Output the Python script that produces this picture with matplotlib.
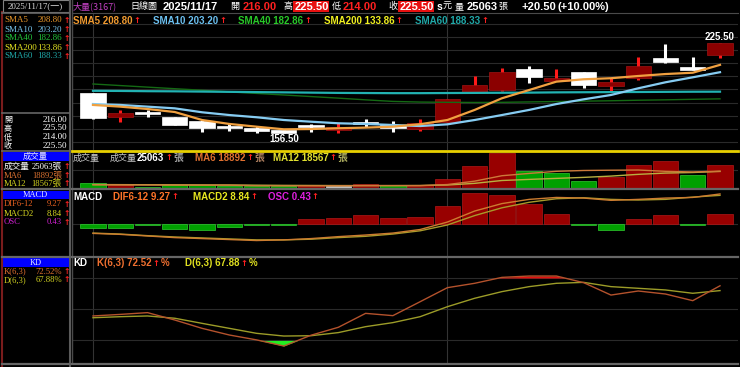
import matplotlib
matplotlib.use('Agg')
import matplotlib.pyplot as plt
from matplotlib.lines import Line2D
from matplotlib.patches import Rectangle
import numpy as np

# 日K資料 (由圖上讀取的估計值)
opens = [187.0, 169.3, 172.7, 168.8, 166.3, 162.4, 160.4, 159.1, 163.0, 159.1, 165.4, 162.9,
         159.6, 165.4, 188.3, 189.6, 205.7, 196.7, 203.1, 192.9, 199.0, 213.8, 207.4, 216.0]
highs = [187.0, 174.0, 174.7, 169.0, 166.5, 164.2, 162.4, 159.3, 163.5, 164.2, 167.3, 166.0,
         167.3, 182.5, 200.5, 206.6, 208.2, 205.7, 203.1, 198.6, 215.0, 224.7, 214.6, 225.5]
lows = [167.8, 165.5, 168.8, 163.0, 157.5, 158.5, 157.0, 156.5, 157.8, 157.0, 161.6, 157.8,
        158.6, 165.4, 188.3, 189.0, 195.2, 196.7, 190.9, 188.9, 197.3, 210.0, 204.9, 214.0]
closes = [168.6, 172.4, 171.4, 163.2, 160.4, 160.4, 158.6, 157.0, 161.5, 161.5, 163.7, 160.9,
          164.7, 182.5, 193.4, 203.1, 199.8, 199.0, 193.4, 195.5, 208.2, 210.8, 205.0, 225.5]

sma5 = [178.2, 176.9, 175.1, 172.8, 166.7, 163.7, 161.6, 159.6, 159.8, 160.4, 160.9, 161.6,
        163.5, 166.7, 174.4, 183.3, 189.6, 196.0, 197.8, 198.6, 200.3, 201.8, 202.8, 208.8]
sma10 = [178.9, 178.2, 176.9, 175.6, 172.6, 170.5, 168.8, 166.7, 165.4, 164.2, 163.7, 162.9,
         162.1, 163.4, 166.7, 170.5, 174.4, 178.9, 182.5, 185.8, 190.9, 195.5, 199.3, 203.2]
sma40 = [194.2, 193.0, 191.8, 190.6, 189.4, 188.2, 187.0, 185.8, 184.6, 183.4, 182.1, 180.9,
         180.4, 180.2, 180.1, 180.2, 180.5, 180.8, 181.1, 181.4, 181.8, 182.1, 182.5, 182.86]
sma60 = [189.0, 188.9, 188.7, 188.6, 188.4, 188.2, 188.0, 187.8, 187.6, 187.4, 187.3, 187.2,
         187.2, 187.3, 187.4, 187.5, 187.6, 187.8, 187.9, 188.0, 188.1, 188.2, 188.3, 188.33]

# 成交量 (張)
vols = [6500, 3600, 1900, 3600, 3600, 2900, 2500, 2500, 3300, 2500, 4400, 3300,
        3300, 9800, 25000, 38100, 18500, 17400, 8700, 12000, 26100, 29400, 14200, 25063]
vol_dir = [-1, 1, -1, -1, -1, -1, -1, -1, 1, 0, 1, -1, 1, 1, 1, 1, -1, -1, -1, 1, 1, 1, -1, 1]
vol_ma6 = [4000, 3900, 3800, 3700, 3600, 3600, 3000, 2900, 2900, 2900, 3100, 3100,
           3200, 4300, 8000, 13900, 16400, 18700, 19600, 19900, 20100, 18700, 18000, 18892]
vol_ma12 = [4300, 4200, 4100, 4000, 3900, 3800, 3600, 3400, 3300, 3200, 3200, 3200,
            3200, 3800, 5600, 8700, 9900, 11000, 12100, 13500, 15400, 16800, 17400, 18567]

# MACD
osc = [-0.16, -0.16, -0.05, -0.22, -0.26, -0.15, -0.06, -0.06, 0.22, 0.27, 0.39, 0.25,
       0.32, 0.80, 1.33, 1.26, 0.87, 0.43, -0.06, -0.26, 0.20, 0.39, -0.05, 0.43]
dif = [-2.9, -3.2, -3.7, -4.2, -4.5, -4.8, -5.1, -4.9, -4.5, -3.9, -3.4, -2.8,
       -1.7, 0.6, 4.0, 6.3, 7.6, 8.2, 8.0, 7.3, 7.6, 8.0, 8.2, 9.27]
macd2 = [-2.8, -3.1, -3.6, -4.0, -4.3, -4.6, -4.9, -4.9, -4.7, -4.2, -3.8, -3.1,
         -2.1, -0.3, 2.6, 5.0, 6.7, 7.8, 8.1, 7.6, 7.4, 7.6, 8.3, 8.84]

# KD
k_val = [43.5, 45.0, 46.7, 39.6, 31.6, 25.2, 20.5, 14.6, 25.0, 32.6, 46.0, 43.8,
         57.2, 70.7, 74.9, 80.6, 81.9, 81.9, 75.5, 63.6, 67.5, 64.6, 58.2, 72.52]
d_val = [41.8, 42.8, 43.5, 41.3, 36.4, 31.6, 26.8, 24.2, 24.5, 27.5, 33.2, 37.1,
         42.8, 52.4, 60.5, 66.9, 71.7, 74.9, 75.8, 71.7, 70.1, 68.5, 65.3, 67.88]

W, H = 740, 367
SERIF = ['Liberation Serif', 'Noto Sans CJK TC', 'DejaVu Sans']
SANS = ['Liberation Sans', 'Noto Sans CJK TC', 'DejaVu Sans']
CJK = ['Noto Sans CJK TC', 'DejaVu Sans']
ARROW = ['DejaVu Sans']
RED = '#ff2020'
GRID = '#2a2a2a'
XL = (-0.77, 23.66)

fig = plt.figure(figsize=(W / 100, H / 100), dpi=100, facecolor='black')


def fx(x):
    return x / W


def fy(y):
    return 1 - y / H


def hline(y, x0, x1, color, lw=1.0):
    fig.add_artist(Line2D([fx(x0), fx(x1)], [fy(y), fy(y)], color=color, lw=lw,
                          transform=fig.transFigure))


def vline(x, y0, y1, color, lw=1.0):
    fig.add_artist(Line2D([fx(x), fx(x)], [fy(y0), fy(y1)], color=color, lw=lw,
                          transform=fig.transFigure))


def box(x0, y0, x1, y1, fc, ec='none'):
    fig.add_artist(Rectangle((fx(x0), fy(y1)), fx(x1) - fx(x0), fy(y0) - fy(y1),
                             facecolor=fc, edgecolor=ec, lw=0.8, transform=fig.transFigure))


def txt(x, y, s, c, size=6.5, fam=SERIF, w='normal', ha='left'):
    return fig.text(fx(x), fy(y), s, color=c, fontsize=size, family=fam,
                    fontweight=w, ha=ha, va='center')


def seq(x, y, pieces, size=7, fam=SANS, w='bold'):
    # 依序排列不同顏色的文字片段
    r = fig.canvas.get_renderer()
    for p in pieces:
        f = p[2] if len(p) > 2 else fam
        s = size - 1 if f is ARROW else size
        t = txt(x, y, p[0], p[1], s, f, w)
        x += t.get_window_extent(r).width + 1
    return x


def panel(y0, y1):
    ax = fig.add_axes([fx(72), fy(y1), fx(738) - fx(72), fy(y0) - fy(y1)])
    ax.set_facecolor('black')
    ax.set_xlim(XL)
    ax.set_axis_off()
    for i in (0, 13):
        ax.axvline(i, color='#333333', lw=0.8, zorder=0)
    return ax


xs = np.arange(len(closes))

# ---- 主圖 K線 ----
ax_p = panel(13, 150)
ax_p.set_ylim(143.8, 248.4)
for p in range(150, 250, 10):
    ax_p.axhline(p, color=GRID, lw=0.8, zorder=0)
for i in xs:
    up = closes[i] >= opens[i]
    body = '#8b0000' if up else 'white'
    wick = '#ff1a1a' if up else 'white'
    ax_p.vlines(i, lows[i], highs[i], color=wick, lw=2.2, zorder=2)
    lo = min(opens[i], closes[i])
    h = max(abs(closes[i] - opens[i]), 0.4)
    ax_p.bar(i, h, bottom=lo, width=0.93, color=body,
             edgecolor='#a01414' if up else 'white', lw=0.5, zorder=3)
ax_p.plot(xs, sma40, color='#146a14', lw=1.0, zorder=4)
ax_p.plot(xs, sma60, color='#22b2b2', lw=1.6, zorder=4)
ax_p.plot(xs, sma10, color='#86ccf2', lw=1.6, zorder=5)
ax_p.plot(xs, sma5, color='#f0a040', lw=1.6, zorder=6)
hi = int(np.argmax(highs))
lo_i = int(np.argmin(lows))
ax_p.annotate(f'{highs[hi]:.2f}', (hi, highs[hi]), xytext=(0, 4.5), textcoords='offset points',
              ha='center', va='center', color='white', fontsize=7, fontweight='bold', family=SANS)
ax_p.annotate(f'{lows[lo_i]:.2f}', (lo_i, lows[lo_i]), xytext=(0, -4.2), textcoords='offset points',
              ha='center', va='center', color='white', fontsize=7, fontweight='bold', family=SANS)

# ---- 成交量 ----
ax_v = panel(151, 188.5)
ax_v.set_ylim(0, 40800)
ax_v.axhline(20000, color=GRID, lw=0.8, zorder=0)
vcol = {1: '#980000', -1: '#00a000', 0: '#c8c8c8'}
vedge = {1: '#b01818', -1: '#30cc30', 0: '#e0e0e0'}
ax_v.bar(xs, vols, width=0.93, color=[vcol[d] for d in vol_dir],
         edgecolor=[vedge[d] for d in vol_dir], lw=0.5, zorder=2)
ax_v.plot(xs, vol_ma12, color='#b8b040', lw=1.0, zorder=3)
ax_v.plot(xs, vol_ma6, color='#cc7a3a', lw=1.0, zorder=3)

# ---- MACD ----
ax_m = panel(190, 256)
ax_m.set_ylim(-32 / 23, 34 / 23)
ax_m.axhline(0, color=GRID, lw=0.8, zorder=0)
ax_m.bar(xs, osc, width=0.93, color=['#980000' if v > 0 else '#00a000' for v in osc],
         edgecolor=['#b01818' if v > 0 else '#30cc30' for v in osc], lw=0.5, zorder=2)
ax_m2 = ax_m.twinx()
ax_m2.set_xlim(XL)
ax_m2.set_ylim(-32 / 3.24, 34 / 3.24)
ax_m2.set_axis_off()
ax_m2.plot(xs, macd2, color='#a89a2a', lw=1.0)
ax_m2.plot(xs, dif, color='#cc7c30', lw=1.0)

# ---- KD ----
ax_k = panel(257, 363)
ax_k.set_ylim(80 - 85 / 1.04, 80 + 21 / 1.04)
for lv in (20, 50, 80):
    ax_k.axhline(lv, color=GRID, lw=0.8, zorder=0)
k_arr = np.array(k_val)
ax_k.fill_between(xs, k_arr, 80, where=k_arr > 80, interpolate=True, color='#e01010', lw=0, zorder=1)
ax_k.fill_between(xs, k_arr, 20, where=k_arr < 20, interpolate=True, color='#22ee22', lw=0, zorder=1)
ax_k.plot(xs, d_val, color='#9c9c28', lw=1.0, zorder=2)
ax_k.plot(xs, k_arr, color='#b4522c', lw=1.0, zorder=3)

# ---- 分隔線 ----
vline(1.5, 12, 367, '#7a1c1c', 1.5)
vline(69.5, 0, 367, '#5a5a5a', 1.5)
vline(72, 0, 363, '#4a4a4a', 1.0)
hline(13, 72, 738, '#4a4a4a', 0.8)
hline(150.5, 72, 738, '#e8d000', 2.0)
for yy in (189, 256.5, 363.5):
    hline(yy, 72, 738, '#666666', 1.6)
    hline(yy, 2, 69, '#666666', 1.6)
hline(113, 2, 69, '#666666', 1.2)
hline(150.5, 2, 69, '#666666', 1.2)
hline(13, 2, 69, '#666666', 1.2)

# ---- 頂部標題列 ----
box(2.5, 0.5, 68.5, 12, 'black', '#808080')
txt(8, 6.5, '2025/11/17(一)', '#d8d8d8', 6.5, SERIF)
txt(73, 6.5, '大量(3167)', '#c040c0', 6.5, CJK)
txt(130, 6.5, '日線圖', 'white', 6.5, CJK)
txt(163, 6.5, '2025/11/17', 'white', 8, SANS, 'bold')
txt(230, 6.5, '開', 'white', 6.5, CJK)
txt(243, 6.5, '216.00', RED, 8, SANS, 'bold')
txt(283, 6.5, '高', 'white', 6.5, CJK)
box(293, 1, 329, 12, '#e81010')
txt(294.5, 6.5, '225.50', 'white', 8, SANS, 'bold')
txt(332, 6.5, '低', 'white', 6.5, CJK)
txt(343, 6.5, '214.00', RED, 8, SANS, 'bold')
txt(388, 6.5, '收', 'white', 6.5, CJK)
box(398, 1, 434, 12, '#e81010')
txt(399.5, 6.5, '225.50', 'white', 8, SANS, 'bold')
txt(437, 6.5, 's', 'white', 7.5, SANS, 'bold')
txt(443, 6.5, '元', 'white', 6.5, CJK)
txt(455, 6.5, '量', 'white', 6.5, CJK)
txt(467, 6.5, '25063', 'white', 8, SANS, 'bold')
txt(498, 6.5, '張', 'white', 6.5, CJK)
txt(522, 6.5, '+20.50', 'white', 8, SANS, 'bold')
txt(558, 6.5, '(+10.00%)', 'white', 8, SANS, 'bold')

# ---- 各圖標題 ----
sma_items = [('SMA5', sma5[-1], '#f09a30', 73), ('SMA10', sma10[-1], '#6cc0f0', 153),
             ('SMA40', sma40[-1], '#28c828', 238), ('SMA200', 133.86, '#f0f020', 324),
             ('SMA60', sma60[-1], '#20a8a8', 415)]
for name, v, c, x in sma_items:
    seq(x, 20.5, [(f'{name} {v:.2f}', c), ('↑', RED, ARROW)])

txt(73, 158, '成交量', '#c8c8c8', 6.5, CJK)
txt(110, 158, '成交量', '#c8c8c8', 6.5, CJK)
seq(137, 158, [(f'{vols[-1]}', 'white'), ('↑', RED, ARROW), ('張', '#a0a0a0', CJK)])
seq(195, 158, [(f'MA6 {vol_ma6[-1]}', '#e07030'), ('↑', RED, ARROW), ('張', '#b08060', CJK)])
seq(273, 158, [(f'MA12 {vol_ma12[-1]}', '#e0e030'), ('↑', RED, ARROW), ('張', '#b0b060', CJK)])

txt(73, 196.5, 'MACD', 'white', 7, SANS, 'bold')
seq(113, 196.5, [(f'DIF6-12 {dif[-1]:.2f}', '#ff7428'), ('↑', RED, ARROW)])
seq(193, 196.5, [(f'MACD2 {macd2[-1]:.2f}', '#e8e820'), ('↑', RED, ARROW)])
seq(268, 196.5, [(f'OSC {osc[-1]:.2f}', '#e020e0'), ('↑', RED, ARROW)])

txt(73, 263.5, 'KD', 'white', 7, SANS, 'bold')
seq(97, 263.5, [(f'K(6,3) {k_val[-1]:.2f}', '#f07030'), ('↑', RED, ARROW), ('%', '#f07030')])
seq(185, 263.5, [(f'D(6,3) {d_val[-1]:.2f}', '#e0e020'), ('↑', RED, ARROW), ('%', '#e0e020')])

# ---- 左側資訊欄 ----
left_sma = [('SMA5', sma5[-1], '#e8962a'), ('SMA10', sma10[-1], '#78c4ec'),
            ('SMA40', sma40[-1], '#22c43a'), ('SMA200', 133.86, '#e6e622'),
            ('SMA60', sma60[-1], '#1fa8a8')]
for j, (name, v, c) in enumerate(left_sma):
    yy = 20.5 + j * 9
    txt(4, yy, name, c)
    txt(62, yy, f'{v:.2f}', c, ha='right')
    txt(63.5, yy, '↑', RED, 5.5, ARROW, 'bold')

for j, (name, v) in enumerate([('開', opens[-1]), ('高', highs[-1]), ('低', lows[-1]), ('收', closes[-1])]):
    yy = 119.5 + j * 8.8
    txt(4, yy, name, 'white', 5.8, CJK)
    txt(67, yy, f'{v:.2f}', 'white', ha='right')

for yb, label in ((152, '成交量'), (190.8, 'MACD'), (258.3, 'KD')):
    box(3, yb, 68.5, yb + 8.6, '#0000ff')
    txt(35.5, yb + 4.3, label, '#e8e8ff', 6, SERIF, ha='center')

left_rows = [(167, '成交量', f'{vols[-1]}張', 'white'),
             (175.5, 'MA6', f'{vol_ma6[-1]}張', '#d87030'),
             (184, 'MA12', f'{vol_ma12[-1]}張', '#d0d020'),
             (204.5, 'DIF6-12', f'{dif[-1]:.2f}', '#e86020'),
             (213.5, 'MACD2', f'{macd2[-1]:.2f}', '#d8d820'),
             (222.5, 'OSC', f'{osc[-1]:.2f}', '#d020d0'),
             (271.5, 'K(6,3)', f'{k_val[-1]:.2f}%', '#e07030'),
             (280, 'D(6,3)', f'{d_val[-1]:.2f}%', '#d0d020')]
for yy, name, val, c in left_rows:
    txt(4, yy, name, c, 6.2)
    txt(62, yy, val, c, 6.2, ha='right')
    txt(63.5, yy, '↑', RED, 5.5, ARROW, 'bold')

fig.savefig('out.png', dpi=100, facecolor='black')
